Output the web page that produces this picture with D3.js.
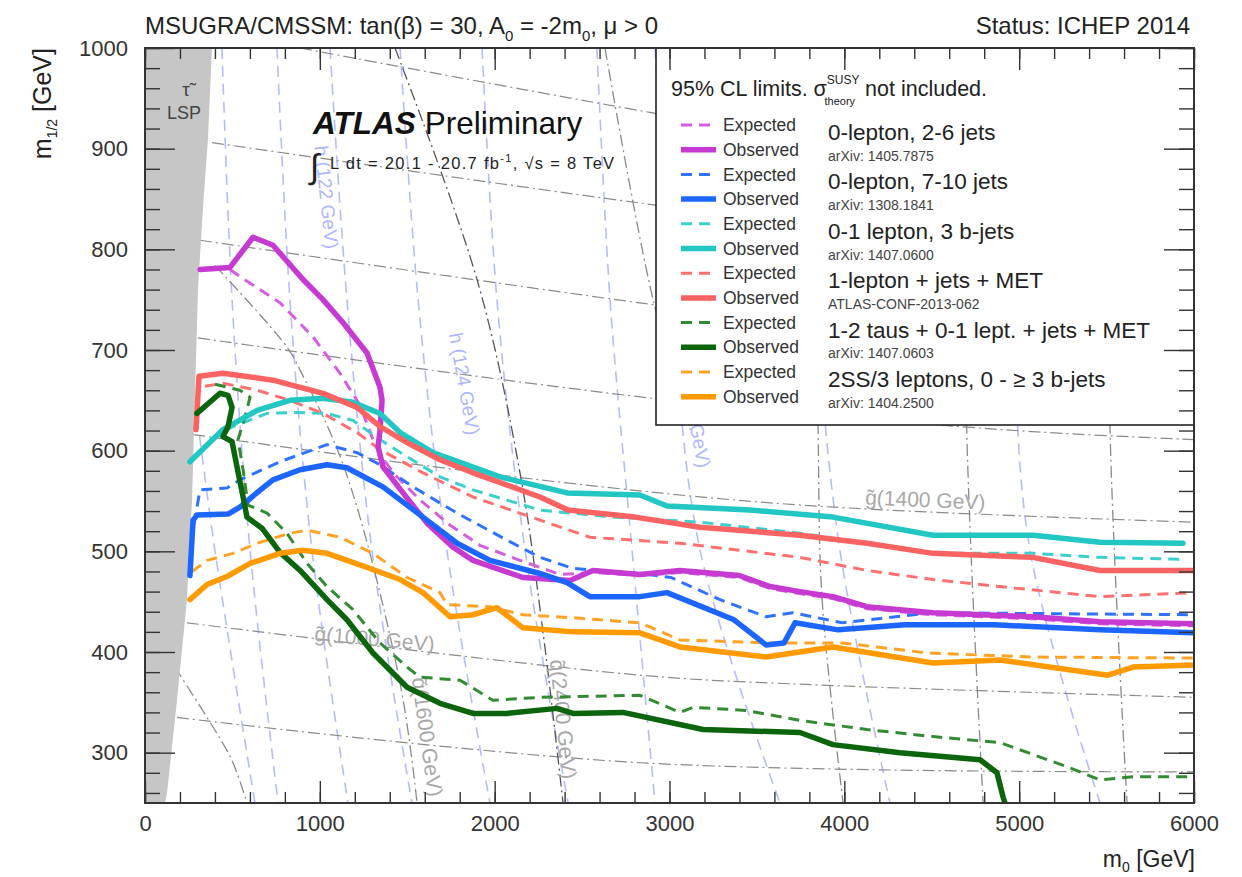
<!DOCTYPE html>
<html>
<head>
<meta charset="utf-8">
<script src="https://cdn.jsdelivr.net/npm/d3@7"></script>
<style>
  body { margin: 0; background: #fff; }
  text { font-family: "Liberation Sans", Arial, Helvetica, sans-serif; }
</style>
</head>
<body>
<svg id="chart"></svg>
<script>
// values in GeV
const xTicks = [0, 1000, 2000, 3000, 4000, 5000, 6000]
const yTicks = [300, 400, 500, 600, 700, 800, 900, 1000]

const analyses = ["0-lepton, 2-6 jets", "0-lepton, 7-10 jets", "0-1 lepton, 3 b-jets",
  "1-lepton + jets + MET", "1-2 taus + 0-1 lept. + jets + MET", "2SS/3 leptons, 0 - \u2265 3 b-jets"]
const references = ["arXiv: 1405.7875", "arXiv: 1308.1841", "arXiv: 1407.0600",
  "ATLAS-CONF-2013-062", "arXiv: 1407.0603", "arXiv: 1404.2500"]
const obsColours = ["#c63ad2", "#1c66ff", "#22c6c2", "#fb6262", "#0c640c", "#ff9a00"]
const expColours = ["#d35ee0", "#2f72ff", "#3dcfcc", "#ff7070", "#338a33", "#ffa326"]

// stau LSP region (grey band at low m0)
const stauLSP = [[0, 1000], [383, 1000], [360, 909], [332, 842], [303, 760], [269, 551],
  [240, 452], [183, 352], [126, 260], [114, 250], [0, 250]]

const magentaExp = [[486, 780], [543, 773], [772, 747], [961, 713], [1115, 677], [1230, 645],
  [1304, 611], [1344, 596], [1430, 576], [1573, 551], [1745, 526], [1916, 506], [2145, 491],
  [2374, 477], [2562, 479], [2831, 476], [3060, 479], [3400, 474], [3575, 463], [3746, 458],
  [3935, 453], [4130, 443], [4507, 437], [5079, 433], [5462, 428], [6000, 426]]
const magentaObs = [[315, 780], [486, 782], [618, 812], [732, 804], [904, 770], [1018, 750],
  [1133, 727], [1270, 697], [1344, 663], [1356, 650], [1344, 620], [1333, 604], [1361, 584],
  [1476, 558], [1613, 528], [1762, 504], [1876, 491], [2162, 474], [2431, 471], [2562, 481],
  [2831, 477], [3060, 481], [3400, 476], [3575, 465], [3746, 460], [3935, 455], [4130, 445],
  [4507, 439], [5079, 435], [5462, 430], [6000, 428]]

const blueExp = [[280, 527], [315, 561], [469, 563], [543, 571], [772, 589], [1041, 606],
  [1213, 598], [1344, 586], [1533, 564], [1785, 538], [2071, 511], [2259, 494], [2448, 483],
  [2831, 478], [3009, 474], [3289, 452], [3552, 435], [3706, 439], [3987, 429], [4502, 439], [6000, 437]]
const blueObs = [[257, 476], [275, 531], [297, 536], [475, 537], [543, 544], [646, 559],
  [732, 571], [887, 581], [1041, 586], [1155, 583], [1361, 564], [1590, 534], [1785, 508],
  [1973, 491], [2259, 478], [2414, 469], [2545, 455], [2831, 455], [2986, 459], [3369, 432],
  [3552, 407], [3655, 409], [3718, 429], [3964, 422], [4347, 427], [4862, 427], [5462, 422], [6000, 419]]

const cyanExp = [[372, 611], [503, 624], [698, 637], [869, 638], [1041, 637], [1190, 630],
  [1344, 611], [1499, 594], [1687, 574], [1876, 561], [2259, 541], [2677, 534], [3175, 529],
  [3746, 518], [4130, 508], [4507, 498], [5079, 498], [5462, 494], [5937, 492]]
const cyanObs = [[257, 589], [446, 621], [641, 640], [829, 650], [1018, 652], [1190, 648],
  [1344, 637], [1459, 618], [1647, 598], [2031, 574], [2414, 558], [2831, 556], [2986, 545],
  [3460, 541], [3935, 534], [4507, 516], [5079, 516], [5462, 509], [5937, 508]]

const redExp = [[343, 664], [446, 667], [641, 660], [829, 650], [1018, 637], [1213, 618],
  [1344, 601], [1590, 578], [1876, 554], [2259, 531], [2545, 514], [3060, 508], [3746, 494],
  [4130, 481], [4507, 472], [4890, 465], [5462, 455], [6000, 459]]
const redObs = [[292, 621], [309, 674], [446, 677], [732, 670], [1018, 657], [1213, 643],
  [1344, 624], [1499, 608], [1687, 591], [1876, 578], [2259, 554], [2420, 541], [2803, 534],
  [3175, 524], [3746, 516], [4130, 508], [4507, 498], [5079, 494], [5462, 481], [6000, 481]]

const greenExp = [[400, 666], [543, 660], [601, 653], [566, 630], [532, 611], [561, 581],
  [589, 546], [698, 538], [812, 518], [927, 488], [1041, 465], [1190, 442], [1344, 409],
  [1499, 385], [1573, 375], [1802, 372], [1990, 352], [2259, 355], [2831, 357], [3060, 340],
  [3135, 345], [3438, 342], [3746, 332], [4130, 323], [4507, 316], [4890, 310], [5274, 286],
  [5462, 273], [5651, 276], [6000, 276]]
const greenObs = [[297, 637], [429, 657], [475, 655], [498, 643], [475, 624], [446, 614],
  [498, 609], [526, 584], [561, 554], [583, 534], [669, 523], [772, 499], [887, 481],
  [1041, 452], [1155, 432], [1304, 399], [1499, 365], [1687, 349], [1876, 339], [2071, 339],
  [2357, 344], [2448, 339], [2734, 340], [3192, 323], [3746, 320], [3935, 308], [4318, 300],
  [4776, 293], [4873, 280], [4908, 256], [4919, 250]]

const orangeExp = [[269, 480], [355, 491], [503, 498], [641, 508], [829, 518], [927, 521],
  [1115, 514], [1304, 498], [1499, 474], [1687, 459], [1727, 447], [1973, 445], [2162, 437],
  [2448, 434], [2831, 429], [3060, 412], [3575, 409], [3987, 409], [4479, 399], [5079, 395], [6000, 394]]
const orangeObs = [[257, 452], [355, 467], [469, 475], [601, 488], [772, 498], [904, 501],
  [1041, 498], [1270, 484], [1459, 472], [1590, 459], [1745, 435], [1876, 437], [2013, 444],
  [2162, 424], [2448, 420], [2831, 419], [3060, 405], [3552, 395], [3935, 405], [4507, 389],
  [4890, 392], [5508, 377], [5651, 385], [6000, 387]]

// background contours: light blue dashed (Higgs mass) and grey dash-dot (gluino / squark mass)
const higgsLines = [
  [[286, 650], [400, 501], [629, 250]],
  [[440, 1000], [498, 750], [601, 501], [761, 250]],
  [[755, 1000], [829, 750], [955, 501], [1161, 250]],
  [[1058, 1000], [1155, 750], [1298, 501], [1527, 250]],
  [[1459, 1000], [1562, 750], [1727, 501], [1973, 250]],
  [[1928, 1000], [2013, 750], [2174, 501], [2420, 250]],
  [[2585, 1000], [2660, 750], [2786, 501], [2917, 250]],
  [[2917, 1000], [3014, 750], [3175, 501], [3632, 250]],
  [[3747, 1000], [3832, 750], [3975, 501], [4261, 250]],
  [[4891, 1000], [4959, 750], [5062, 501], [5463, 250]]
]
const gluinoLines = [
  [[887, 1000], [2889, 936], [6000, 844]],
  [[383, 906], [2831, 846], [6000, 775]],
  [[315, 809], [2906, 745], [6000, 675]],
  [[303, 712], [2906, 652], [4891, 621], [6000, 611]],
  [[275, 616], [2259, 571], [3747, 546], [6000, 529]],
  [[240, 429], [2831, 377], [3747, 368], [6000, 355]],
  [[183, 335], [2831, 290], [6000, 281]]
]
const squarkLines = [
  [[170, 385], [355, 335], [498, 292], [583, 250]],
  [[400, 784], [812, 703], [887, 680], [1144, 581], [1459, 369], [1556, 250]],
  [[1430, 1000], [1899, 770], [2145, 578], [2277, 419], [2391, 250]],
  [[2631, 1000], [2906, 750], [3118, 621]],
  [[3830, 1000], [3850, 620], [3873, 452], [3993, 250]],
  [[4690, 1000], [4700, 620], [4794, 250]],
  [[5520, 1000], [5520, 620], [5617, 250]]
]

const width = 1242
const height = 877
const svg = d3.select("#chart").attr("width", width).attr("height", height)

const x = d3.scaleLinear().domain([0, 6000]).range([145, 1194])
const y = d3.scaleLinear().domain([250, 1000]).range([803, 48])

const line = d3.line().x(d => x(d[0])).y(d => y(d[1]))
const smooth = d3.line().x(d => x(d[0])).y(d => y(d[1])).curve(d3.curveCatmullRom.alpha(0.5))

svg.append("clipPath").attr("id", "plot")
  .append("rect").attr("x", x(0)).attr("y", y(1000))
  .attr("width", x(6000) - x(0)).attr("height", y(250) - y(1000))

const plot = svg.append("g").attr("clip-path", "url(#plot)")

plot.selectAll(".higgs").data(higgsLines).enter().append("path")
  .attr("d", smooth).attr("fill", "none")
  .attr("stroke", "#b4bcff").attr("stroke-width", 1.6).attr("stroke-dasharray", "11,7")

plot.selectAll(".gluino").data(gluinoLines).enter().append("path")
  .attr("d", smooth).attr("fill", "none")
  .attr("stroke", "#8a8a8a").attr("stroke-width", 1.2).attr("stroke-dasharray", "12,4,2,4")

plot.selectAll(".squark").data(squarkLines).enter().append("path")
  .attr("d", smooth).attr("fill", "none")
  .attr("stroke", (d, i) => i == 2 ? "#555" : "#8a8a8a").attr("stroke-width", 1.3)
  .attr("stroke-dasharray", "12,4,2,4")

// contour labels
function contourLabel(txt, px, py, angle, colour, size) {
  plot.append("text")
    .attr("transform", `translate(${px},${py}) rotate(${angle})`)
    .attr("text-anchor", "middle")
    .style("font-size", size + "px")
    .attr("fill", colour)
    .text(txt)
}
contourLabel("h (122 GeV)", 320, 198, 84, "#aeb6ff", 19)
contourLabel("h (124 GeV)", 458, 385, 80, "#aeb6ff", 19)
contourLabel("h (126 GeV)", 688, 418, 79, "#aeb6ff", 19)
contourLabel("g\u0303(1400 GeV)", 925, 507, 2.5, "#a8a8a8", 21)
contourLabel("g\u0303(1000 GeV)", 374, 646, 5, "#a8a8a8", 21)
contourLabel("q\u0303(1600 GeV)", 420, 738, 82, "#a8a8a8", 21)
contourLabel("q\u0303(2400 GeV)", 556, 720, 84, "#a8a8a8", 21)

plot.append("path").datum(stauLSP).attr("d", line).attr("fill", "#c6c6c6")

const expSeries = [magentaExp, blueExp, cyanExp, redExp, greenExp, orangeExp]
const obsSeries = [magentaObs, blueObs, cyanObs, redObs, greenObs, orangeObs]

expSeries.forEach((s, i) => {
  plot.append("path").datum(s).attr("d", line).attr("fill", "none")
    .attr("stroke", expColours[i]).attr("stroke-width", 3)
    .attr("stroke-dasharray", "11,7").attr("stroke-linejoin", "round")
})
obsSeries.forEach((s, i) => {
  plot.append("path").datum(s).attr("d", line).attr("fill", "none")
    .attr("stroke", obsColours[i]).attr("stroke-width", 5.5)
    .attr("stroke-linejoin", "round").attr("stroke-linecap", "round")
})

// stau LSP label
svg.append("text").attr("x", 186).attr("y", 96).attr("text-anchor", "middle")
  .style("font-size", "19px").attr("fill", "#444").text("\u03c4\u0303")
svg.append("text").attr("x", 184).attr("y", 119).attr("text-anchor", "middle")
  .style("font-size", "18px").attr("fill", "#444").text("LSP")

// legend
const leg = svg.append("g")
leg.append("rect").attr("x", 656).attr("y", 48).attr("width", 1194 - 656).attr("height", 425 - 48)
  .attr("fill", "#fff").attr("stroke", "#222").attr("stroke-width", 1.6)

const head = leg.append("text").attr("x", 671).attr("y", 96).style("font-size", "21.5px").attr("fill", "#222")
head.append("tspan").text("95% CL limits.  \u03c3")
head.append("tspan").attr("dy", -12).style("font-size", "12px").text("SUSY")
head.append("tspan").attr("dx", -35).attr("dy", 21).style("font-size", "11px").text("theory")
head.append("tspan").attr("dx", 10).attr("dy", -9).text("not included.")

const rowY = i => 125 + i * 24.7
analyses.forEach((name, i) => {
  const ye = rowY(2 * i), yo = rowY(2 * i + 1)
  leg.append("line").attr("x1", 681).attr("x2", 716).attr("y1", ye).attr("y2", ye)
    .attr("stroke", expColours[i]).attr("stroke-width", 3).attr("stroke-dasharray", "11,7")
  leg.append("line").attr("x1", 681).attr("x2", 716).attr("y1", yo).attr("y2", yo)
    .attr("stroke", obsColours[i]).attr("stroke-width", 5.5)
  leg.append("text").attr("x", 723).attr("y", ye).attr("dy", "0.35em")
    .style("font-size", "17.5px").attr("fill", "#333").text("Expected")
  leg.append("text").attr("x", 723).attr("y", yo).attr("dy", "0.35em")
    .style("font-size", "17.5px").attr("fill", "#333").text("Observed")
  leg.append("text").attr("x", 828).attr("y", ye + 15)
    .style("font-size", "22.5px").attr("fill", "#222").text(name)
  leg.append("text").attr("x", 828).attr("y", yo + 11)
    .style("font-size", "14px").attr("fill", "#444").text(references[i])
})

// axes, ROOT style: ticks inward on all four sides
function styleAxis(g, labels) {
  g.select(".domain").remove()
  g.selectAll("line").attr("stroke", "#333").attr("stroke-width", 1.4)
  g.selectAll("text").style("font-size", "22px").attr("fill", "#333")
  if (!labels) g.selectAll("text").remove()
}
const xMinor = d3.range(0, 6001, 200)
const yMinor = d3.range(260, 1001, 20)

svg.append("g").attr("transform", `translate(0,${y(250)})`)
  .call(d3.axisBottom(x).tickValues(xMinor).tickSize(-11).tickFormat(""))
  .call(g => styleAxis(g, false))
svg.append("g").attr("transform", `translate(0,${y(250)})`)
  .call(d3.axisBottom(x).tickValues(xTicks).tickSize(-22).tickPadding(12).tickFormat(d3.format("d")))
  .call(g => styleAxis(g, true))
svg.append("g").attr("transform", `translate(0,${y(1000)})`)
  .call(d3.axisTop(x).tickValues(xMinor).tickSize(-11).tickFormat(""))
  .call(g => styleAxis(g, false))
svg.append("g").attr("transform", `translate(0,${y(1000)})`)
  .call(d3.axisTop(x).tickValues(xTicks).tickSize(-22).tickFormat(""))
  .call(g => styleAxis(g, false))

svg.append("g").attr("transform", `translate(${x(0)},0)`)
  .call(d3.axisLeft(y).tickValues(yMinor).tickSize(-15).tickFormat(""))
  .call(g => styleAxis(g, false))
svg.append("g").attr("transform", `translate(${x(0)},0)`)
  .call(d3.axisLeft(y).tickValues(yTicks).tickSize(-30).tickPadding(17).tickFormat(d3.format("d")))
  .call(g => styleAxis(g, true))
svg.append("g").attr("transform", `translate(${x(6000)},0)`)
  .call(d3.axisRight(y).tickValues(yMinor).tickSize(-15).tickFormat(""))
  .call(g => styleAxis(g, false))
svg.append("g").attr("transform", `translate(${x(6000)},0)`)
  .call(d3.axisRight(y).tickValues(yTicks).tickSize(-30).tickFormat(""))
  .call(g => styleAxis(g, false))

svg.append("rect").attr("x", x(0)).attr("y", y(1000))
  .attr("width", x(6000) - x(0)).attr("height", y(250) - y(1000))
  .attr("fill", "none").attr("stroke", "#333").attr("stroke-width", 2)

// axis titles
const yt = svg.append("text").attr("transform", "translate(51,48) rotate(-90)")
  .attr("text-anchor", "end").style("font-size", "25px").attr("fill", "#222")
yt.append("tspan").text("m")
yt.append("tspan").attr("dy", 6).style("font-size", "14px").text("1/2")
yt.append("tspan").attr("dy", -6).text(" [GeV]")

const xt = svg.append("text").attr("x", 1195).attr("y", 867)
  .attr("text-anchor", "end").style("font-size", "23px").attr("fill", "#222")
xt.append("tspan").text("m")
xt.append("tspan").attr("dy", 5).style("font-size", "14px").text("0")
xt.append("tspan").attr("dy", -5).text(" [GeV]")

// header
const title = svg.append("text").attr("x", 145).attr("y", 34).style("font-size", "24px").attr("fill", "#222")
title.append("tspan").text("MSUGRA/CMSSM: tan(\u03b2) = 30, A")
title.append("tspan").attr("dy", 7).style("font-size", "15px").text("0")
title.append("tspan").attr("dy", -7).text(" = -2m")
title.append("tspan").attr("dy", 7).style("font-size", "15px").text("0")
title.append("tspan").attr("dy", -7).text(", \u03bc > 0")

svg.append("text").attr("x", 1190).attr("y", 34).attr("text-anchor", "end")
  .style("font-size", "24px").attr("fill", "#222").text("Status: ICHEP 2014")

// ATLAS label
const atl = svg.append("text").attr("x", 313).attr("y", 134).style("font-size", "31.5px").attr("fill", "#111")
atl.append("tspan").style("font-weight", "bold").style("font-style", "italic").text("ATLAS")
atl.append("tspan").attr("dx", 9).text("Preliminary")

svg.append("text").attr("x", 310).attr("y", 178).style("font-size", "34px").attr("fill", "#222").text("\u222b")
const lumi = svg.append("text").attr("x", 330).attr("y", 169).style("font-size", "16.5px")
  .style("letter-spacing", "1.3px").attr("fill", "#222")
lumi.append("tspan").text("L dt = 20.1 - 20.7 fb")
lumi.append("tspan").attr("dy", -7).style("font-size", "11px").text("-1")
lumi.append("tspan").attr("dy", 7).text(", \u221as = 8 TeV")
</script>
</body>
</html>
